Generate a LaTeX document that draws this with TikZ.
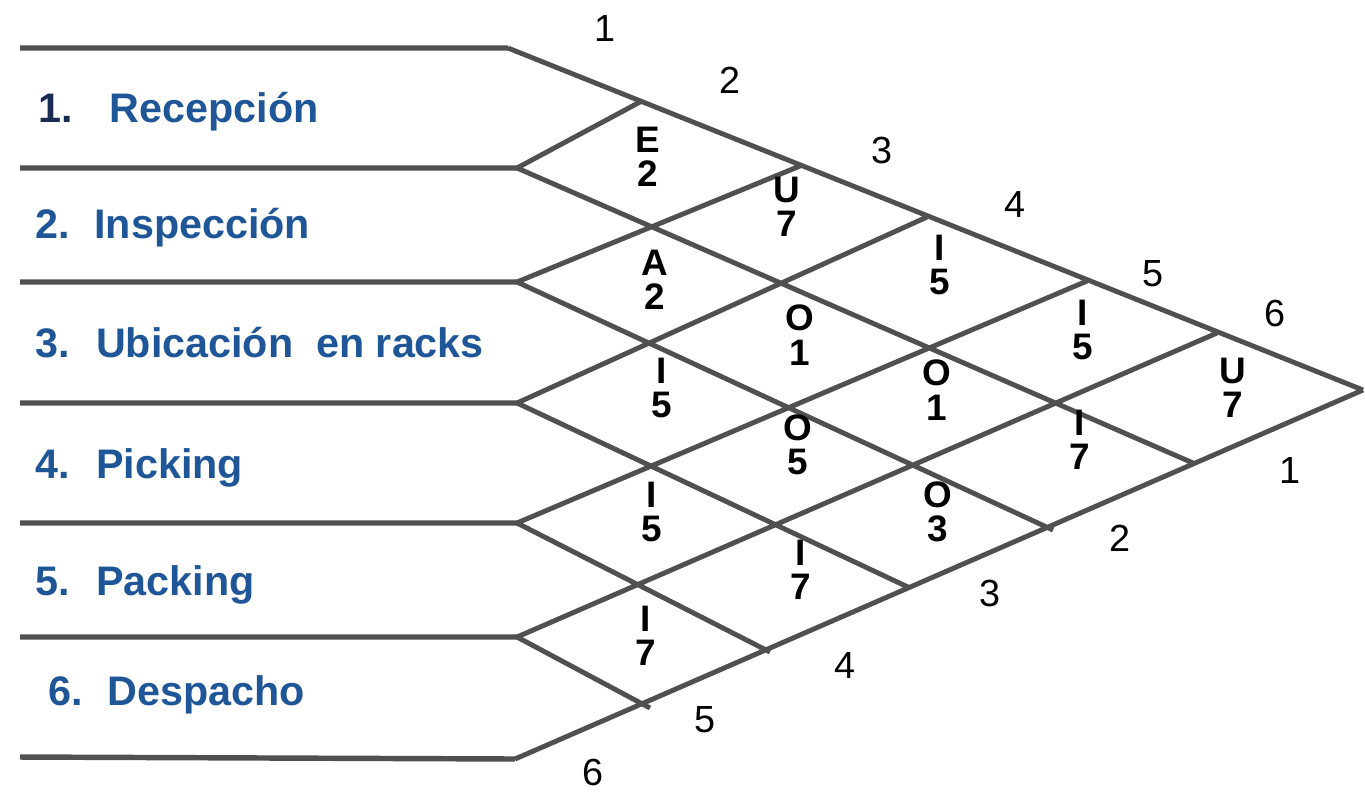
\documentclass[tikz,border=0pt]{standalone}
\usepackage{fontspec}
\setmainfont{Liberation Sans}
\usepackage{tikz}
\usepackage{xcolor}
\usetikzlibrary{
    calc,
    positioning
}
\definecolor{gridgray}{RGB}{80,80,80}
\definecolor{deptblue}{RGB}{31,86,152}
\definecolor{deptnavy}{RGB}{26,44,84}

\begin{document}
\begin{tikzpicture}[x=0.02cm, y=-0.02cm,
    chartline/.style={draw=gridgray, line width=2.8pt},
    rowline/.style={draw=gridgray, line width=3.1pt},
    cell/.style={font=\fontsize{21}{19.5}\selectfont\bfseries, align=center, inner sep=0pt},
    num/.style={font=\fontsize{21.5}{24}\selectfont, inner sep=0pt},
    dept/.style={font=\fontsize{23.5}{26}\selectfont\bfseries, text=deptblue, anchor=base west, inner sep=0pt}]
                        \useasboundingbox (0,0) rectangle (1365,792);

                        % left ends of the row lines
                        \coordinate (h0) at (20,48);
                        \coordinate (h1) at (20,168);
                        \coordinate (h2) at (20,282);
                        \coordinate (h3) at (20,403);
                        \coordinate (h4) at (20,523);
                        \coordinate (h5) at (20,637);
                        \coordinate (h6) at (20,757);

                        % corners of the chart
                        \coordinate (t0) at (508,48);
                        \coordinate (t1) at (640,102);
                        \coordinate (t2) at (800,166);
                        \coordinate (t3) at (927,217);
                        \coordinate (t4) at (1087,281);
                        \coordinate (t5) at (1217,333);
                        \coordinate (apex) at (1363,390);
                        \coordinate (l1) at (517,168);
                        \coordinate (l2) at (517,282);
                        \coordinate (l3) at (517,403);
                        \coordinate (l4) at (517,523);
                        \coordinate (l5) at (517,637);
                        \coordinate (l6) at (515,759);
                        \coordinate (b1) at (1193,463);
                        \coordinate (b2) at (1053,530);
                        \coordinate (b3) at (910,588);
                        \coordinate (b4) at (770,652);
                        \coordinate (b5) at (650,708);

                        \draw[rowline]
                        (h0) -- (t0)
                        (h1) -- (l1)
                        (h2) -- (l2)
                        (h3) -- (l3)
                        (h4) -- (l4)
                        (h5) -- (l5)
                        (h6) -- (l6);

                        \draw[chartline]
                        (t0) -- (apex)
                        (l6) -- (apex)
                        (l1) -- (t1)
                        (l2) -- (t2)
                        (l3) -- (t3)
                        (l4) -- (t4)
                        (l5) -- (t5)
                        (l1) -- (b1)
                        (l2) -- (b2)
                        (l3) -- (b3)
                        (l4) -- (b4)
                        (l5) -- (b5);

                        % departments
                        \node[dept] (d1) at (38,122) {\textcolor{deptnavy}{1.}\hspace{21pt}Recepción};
                        \node[dept] (d2) at (35,238) {2.\hspace{14pt}Inspección};
                        \node[dept] (d3) at (35,357) {3.\hspace{15pt}Ubicación\hspace{13pt}en racks};
                        \node[dept] (d4) at (35,478) {4.\hspace{15pt}Picking};
                        \node[dept] (d5) at (35,595) {5.\hspace{15pt}Packing};
                        \node[dept] (d6) at (48,705) {6.\hspace{14pt}Despacho};

                        % numbers along the top
                        \node[num] (top1) at (605,28) {1};
                        \node[num] (top2) at (730,80) {2};
                        \node[num] (top3) at (882,150) {3};
                        \node[num] (top4) at (1015,204) {4};
                        \node[num] (top5) at (1153,274) {5};
                        \node[num] (top6) at (1275,313) {6};

                        % numbers along the bottom
                        \node[num] (bot1) at (1290,470) {1};
                        \node[num] (bot2) at (1120,538) {2};
                        \node[num] (bot3) at (990,593) {3};
                        \node[num] (bot4) at (845,665) {4};
                        \node[num] (bot5) at (705,720) {5};
                        \node[num] (bot6) at (593,772) {6};

                        % closeness ratings
                        \node[cell] (c12) at (648,157) {E\\2};
                        \node[cell] (c13) at (787,207) {U\\7};
                        \node[cell] (c14) at (940,265) {I\\5};
                        \node[cell] (c15) at (1083,330) {I\\5};
                        \node[cell] (c16) at (1233,388) {U\\7};
                        \node[cell] (c23) at (655,280) {A\\2};
                        \node[cell] (c24) at (800,335) {O\\1};
                        \node[cell] (c25) at (937,390) {O\\1};
                        \node[cell] (c26) at (1080,440) {I\\7};
                        \node[cell] (c34) at (662,388) {I\\5};
                        \node[cell] (c35) at (798,445) {O\\5};
                        \node[cell] (c36) at (938,512) {O\\3};
                        \node[cell] (c45) at (652,512) {I\\5};
                        \node[cell] (c46) at (801,570) {I\\7};
                        \node[cell] (c56) at (646,636) {I\\7};
                    \end{tikzpicture}
\end{document}
